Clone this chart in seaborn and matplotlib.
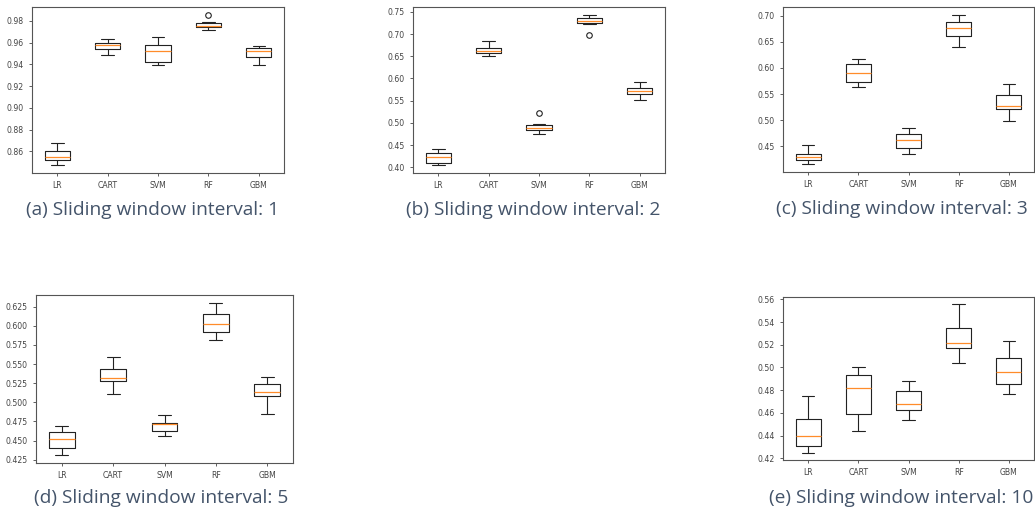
import matplotlib
matplotlib.use("Agg")
import matplotlib.pyplot as plt
import numpy as np
import pandas as pd
import seaborn as sns

models = ["LR", "CART", "SVM", "RF", "GBM"]

# Cross-validation scores (9 folds) per model, for each sliding window interval
interval_1 = {
    "LR":   [0.8470, 0.8500, 0.8520, 0.8535, 0.8550, 0.8575, 0.8603, 0.8640, 0.8677],
    "CART": [0.9490, 0.9520, 0.9540, 0.9560, 0.9575, 0.9585, 0.9593, 0.9610, 0.9633],
    "SVM":  [0.9393, 0.9410, 0.9423, 0.9470, 0.9520, 0.9550, 0.9578, 0.9620, 0.9655],
    "RF":   [0.9714, 0.9730, 0.9744, 0.9750, 0.9754, 0.9768, 0.9780, 0.9794, 0.9859],
    "GBM":  [0.9399, 0.9440, 0.9470, 0.9500, 0.9528, 0.9538, 0.9547, 0.9558, 0.9568],
}
interval_2 = {
    "LR":   [0.4040, 0.4060, 0.4090, 0.4160, 0.4240, 0.4280, 0.4310, 0.4360, 0.4400],
    "CART": [0.6510, 0.6540, 0.6565, 0.6590, 0.6620, 0.6650, 0.6690, 0.6760, 0.6836],
    "SVM":  [0.4740, 0.4790, 0.4830, 0.4860, 0.4883, 0.4910, 0.4943, 0.4981, 0.5222],
    "RF":   [0.6972, 0.7220, 0.7259, 0.7280, 0.7304, 0.7330, 0.7364, 0.7400, 0.7440],
    "GBM":  [0.5524, 0.5590, 0.5652, 0.5690, 0.5728, 0.5760, 0.5788, 0.5860, 0.5931],
}
interval_3 = {
    "LR":   [0.4147, 0.4190, 0.4224, 0.4260, 0.4300, 0.4330, 0.4353, 0.4430, 0.4513],
    "CART": [0.5640, 0.5690, 0.5737, 0.5820, 0.5910, 0.5990, 0.6070, 0.6120, 0.6180],
    "SVM":  [0.4353, 0.4400, 0.4455, 0.4530, 0.4615, 0.4670, 0.4724, 0.4790, 0.4846],
    "RF":   [0.6397, 0.6500, 0.6620, 0.6700, 0.6770, 0.6830, 0.6890, 0.6960, 0.7026],
    "GBM":  [0.4974, 0.5100, 0.5210, 0.5240, 0.5270, 0.5380, 0.5480, 0.5580, 0.5686],
}
interval_5 = {
    "LR":   [0.4307, 0.4360, 0.4409, 0.4460, 0.4519, 0.4560, 0.4607, 0.4650, 0.4695],
    "CART": [0.5113, 0.5200, 0.5285, 0.5300, 0.5312, 0.5370, 0.5435, 0.5510, 0.5594],
    "SVM":  [0.4558, 0.4590, 0.4629, 0.4670, 0.4713, 0.4720, 0.4730, 0.4780, 0.4836],
    "RF":   [0.5810, 0.5860, 0.5920, 0.5970, 0.6025, 0.6090, 0.6157, 0.6230, 0.6303],
    "GBM":  [0.4849, 0.4960, 0.5080, 0.5110, 0.5136, 0.5190, 0.5241, 0.5290, 0.5334],
}
interval_10 = {
    "LR":   [0.4250, 0.4280, 0.4308, 0.4350, 0.4400, 0.4470, 0.4546, 0.4650, 0.4751],
    "CART": [0.4437, 0.4510, 0.4592, 0.4700, 0.4815, 0.4870, 0.4932, 0.4970, 0.5000],
    "SVM":  [0.4534, 0.4580, 0.4625, 0.4650, 0.4677, 0.4730, 0.4789, 0.4840, 0.4882],
    "RF":   [0.5040, 0.5100, 0.5172, 0.5190, 0.5213, 0.5280, 0.5348, 0.5450, 0.5556],
    "GBM":  [0.4762, 0.4810, 0.4856, 0.4910, 0.4961, 0.5020, 0.5085, 0.5160, 0.5231],
}

captions = [
    "(a) Sliding window interval: 1",
    "(b) Sliding window interval: 2",
    "(c) Sliding window interval: 3",
    "(d) Sliding window interval: 5",
    "(e) Sliding window interval: 10",
]

sns.set_style("ticks")
plt.rcParams["font.family"] = ["DejaVu Sans"]

W, H = 1035, 517
fig = plt.figure(figsize=(W / 100, H / 100), dpi=100)
fig.patch.set_facecolor("white")

# (left, top, right, bottom) in pixels, and caption centre (x, y)
panels = [
    (interval_1, (32, 7, 284, 173), (153, 210)),
    (interval_2, (413, 7, 665, 173), (533, 210)),
    (interval_3, (783, 7, 1034, 172), (902, 209)),
    (interval_5, (36, 295, 293, 463), (161, 498)),
    (interval_10, (783, 297, 1034, 460), (901, 498)),
]

for (scores, (l, t, r, b), (cx, cy)), caption in zip(panels, captions):
    ax = fig.add_axes([l / W, 1 - b / H, (r - l) / W, (b - t) / H])
    df = pd.DataFrame(
        [(m, v) for m in models for v in scores[m]], columns=["model", "score"]
    )
    sns.boxplot(
        data=df, x="model", y="score", order=models, ax=ax,
        fill=False, color="#222222", width=0.5, linewidth=0.8, whis=1.5,
        medianprops=dict(color="#ff8c2a", linewidth=0.9),
        flierprops=dict(marker="o", markerfacecolor="none",
                        markeredgecolor="#222222", markersize=4,
                        markeredgewidth=0.8),
    )
    ax.set_xlabel("")
    ax.set_ylabel("")
    ax.tick_params(labelsize=5.6, colors="#444444", length=2.5, width=0.6)
    for s in ax.spines.values():
        s.set_color("#555555")
        s.set_linewidth(0.8)
    fig.text(cx / W, 1 - cy / H, caption, ha="center", va="center",
             fontsize=13.8, color="#44546A", family=["Open Sans", "DejaVu Sans"])

fig.savefig("out.png", dpi=100, facecolor="white")
